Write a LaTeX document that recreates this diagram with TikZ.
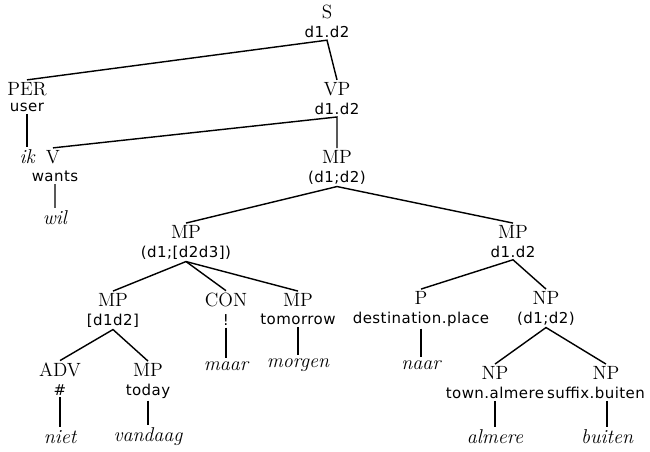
\documentclass[tikz,border=0pt]{standalone}
\usepackage{fontspec}
\setsansfont{DejaVu Sans}[LetterSpace=3]
\usetikzlibrary{positioning}

\begin{document}
\begin{tikzpicture}[x=0.6pt, y=-0.6pt, node distance=1.5pt, line width=0.85pt,
                    cat/.style={inner sep=1pt, font=\rmfamily\fontsize{11.5}{13}\selectfont},
                    feat/.style={inner sep=1pt, font=\sffamily\fontsize{9}{11}\selectfont},
                    word/.style={inner sep=1.5pt, font=\rmfamily\itshape\fontsize{12}{14}\selectfont}]
  \useasboundingbox (0,0) rectangle (650,452);
  % categories with their features
  \node[cat] (s) at (327,12) {S};
  \node[feat, below=of s] (s-f) {d1.d2};
  \node[cat] (per) at (27,89) {PER};
  \node[feat, below=of per] (per-f) {user};
  \node[cat] (vp) at (337,89) {VP};
  \node[feat, below=of vp] (vp-f) {d1.d2};
  \node[cat] (v) at (53,157) {V};
  \node[feat, below=of v, xshift=1.2pt] (v-f) {wants};
  \node[cat] (mp1) at (337,157) {MP};
  \node[feat, below=of mp1] (mp1-f) {(d1;d2)};
  \node[cat] (mp2) at (186,232) {MP};
  \node[feat, below=of mp2] (mp2-f) {(d1;[d2d3])};
  \node[cat] (mp3) at (513,232) {MP};
  \node[feat, below=of mp3] (mp3-f) {d1.d2};
  \node[cat] (mp4) at (113,300) {MP};
  \node[feat, below=of mp4] (mp4-f) {[d1d2]};
  \node[cat] (con) at (226,300) {CON};
  \node[feat, below=of con] (con-f) {!};
  \node[cat] (mp5) at (298,300) {MP};
  \node[feat, below=of mp5] (mp5-f) {tomorrow};
  \node[cat] (adv) at (60,370) {ADV};
  \node[feat, below=of adv] (adv-f) {\#};
  \node[cat] (mp6) at (148,370) {MP};
  \node[feat, below=of mp6] (mp6-f) {today};
  \node[cat] (p) at (421,298) {P};
  \node[feat, below=of p] (p-f) {destination.place};
  \node[cat] (np1) at (546,298) {NP};
  \node[feat, below=of np1] (np1-f) {(d1;d2)};
  \node[cat] (np2) at (495,373) {NP};
  \node[feat, below=of np2] (np2-f) {town.almere};
  \node[cat] (np3) at (606,373) {NP};
  \node[feat, below=of np3, xshift=-6pt] (np3-f) {suffix.buiten};
  % words
  \node[word] (ik) at (27,157) {ik};
  \node[word] (wil) at (55,218) {wil};
  \node[word] (niet) at (60,437) {niet};
  \node[word] (vandaag) at (148,437) {vandaag};
  \node[word] (maar) at (226,366) {maar};
  \node[word] (morgen) at (298,365) {morgen};
  \node[word] (naar) at (421,365) {naar};
  \node[word] (almere) at (495,437) {almere};
  \node[word] (buiten) at (607,437) {buiten};
  % branches
  \draw (per.north) -- (s-f.south) -- (vp.north);
  \draw (per-f.south) -- (ik.north);
  \draw (v.north) -- (vp-f.south) -- (mp1.north);
  \draw (v-f.south) -- (wil.north);
  \draw (mp2.north) -- (mp1-f.south) -- (mp3.north);
  \draw (mp4.north) -- (mp2-f.south) -- (mp5.north);
  \draw (mp2-f.south) -- (con.north);
  \draw (adv.north) -- (mp4-f.south) -- (mp6.north);
  \draw (adv-f.south) -- (niet.north);
  \draw (mp6-f.south) -- (vandaag.north);
  \draw (con-f.south) -- (maar.north);
  \draw (mp5-f.south) -- (morgen.north);
  \draw (p.north) -- (mp3-f.south) -- (np1.north);
  \draw (p-f.south) -- (naar.north);
  \draw (np2.north) -- (np1-f.south) -- (np3.north);
  \draw (np2-f.south) -- (almere.north);
  \draw (np3-f.south -| buiten) -- (buiten.north);
\end{tikzpicture}
\end{document}
